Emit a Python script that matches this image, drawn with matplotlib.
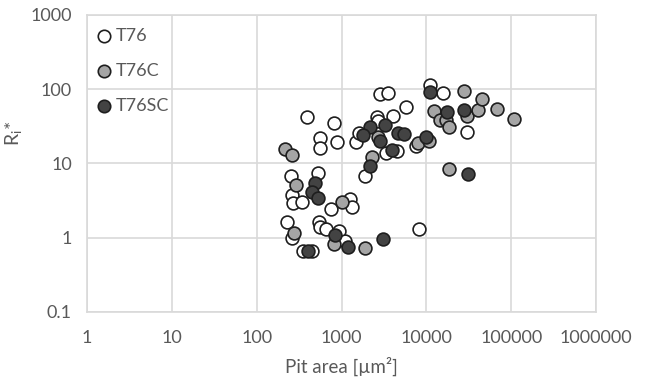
import numpy as np
import matplotlib
matplotlib.use("Agg")
import matplotlib.pyplot as plt

# T76 (open markers)
t76_area = [390, 825, 560, 560, 880, 1490, 1600, 2850, 3570, 5730, 4090, 2610, 2720,
            11100, 15900, 30000, 3360, 4530, 7590, 1900, 253, 534, 259, 271, 340, 754,
            1263, 1334, 226, 264, 549, 560, 658, 945, 1102, 356, 447, 8300]
t76_r = [42.0, 34.7, 21.8, 16.1, 19.5, 19.5, 26.0, 86.5, 90.0, 57.3, 44.1, 42.0, 37.4,
         114, 90.0, 26.4, 13.9, 14.8, 17.3, 6.8, 6.8, 7.5, 3.8, 2.92, 3.0, 2.43,
         3.29, 2.63, 1.64, 0.98, 1.64, 1.40, 1.31, 1.25, 0.91, 0.66, 0.66, 1.32]

# T76C (light grey)
t76c_area = [216, 259, 291, 272, 1008, 825, 1914, 2277, 2700, 8000, 10800, 12400, 14500,
             17100, 18600, 28100, 30000, 40100, 44900, 67800, 108000, 18700]
t76c_r = [15.5, 12.9, 5.15, 1.16, 3.07, 0.83, 0.73, 12.3, 22.8, 18.8, 20.2, 51.5, 39.0,
          38.6, 31.1, 95.8, 44.0, 51.9, 73.3, 53.8, 40.2, 8.46]

# T76SC (dark grey)
t76sc_area = [2175, 1813, 3270, 2850, 3920, 4690, 5470, 9870, 11100, 17300, 28100, 30700,
              2175, 488, 447, 534, 841, 1206, 3096, 407]
t76sc_r = [30.6, 24.5, 32.6, 20.2, 15.4, 25.8, 25.3, 22.6, 90.6, 49.0, 51.9, 7.24,
           9.29, 5.53, 4.19, 3.41, 1.10, 0.755, 0.957, 0.67]

plt.rcParams['font.family'] = ['Lato', 'DejaVu Sans']

fig = plt.figure(figsize=(6.45, 3.84), dpi=100)
ax = fig.add_axes([0.135, 0.1875, 0.789, 0.7735])

edge = '#1e1e1e'
ax.scatter(t76_area, t76_r, s=85, facecolor='white', edgecolor=edge, linewidth=1.2,
           label='T76', zorder=3)
ax.scatter(t76c_area, t76c_r, s=85, facecolor='#a5a5a5', edgecolor=edge, linewidth=1.2,
           label='T76C', zorder=3)
ax.scatter(t76sc_area, t76sc_r, s=85, facecolor='#434343', edgecolor=edge, linewidth=1.2,
           label='T76SC', zorder=3)

ax.set_xscale('log')
ax.set_yscale('log')
ax.set_xlim(1, 1e6)
ax.set_ylim(0.1, 1000)

xt = [1, 10, 100, 1000, 10000, 100000, 1000000]
yt = [0.1, 1, 10, 100, 1000]
ax.set_xticks(xt)
ax.set_xticklabels([str(v) for v in xt])
ax.set_yticks(yt)
ax.set_yticklabels(['0.1', '1', '10', '100', '1000'])
ax.minorticks_off()
ax.tick_params(length=0, labelsize=13, labelcolor='#595959')
ax.tick_params(axis='x', pad=13)
ax.tick_params(axis='y', pad=11)

ax.grid(True, color='#d9d9d9', linewidth=1.2, zorder=0)
ax.set_axisbelow(True)
for sp in ax.spines.values():
    sp.set_color('#d9d9d9')
    sp.set_linewidth(1.2)

ax.set_xlabel('Pit area [µm²]', fontsize=13.5, color='#595959', labelpad=8)
ax.set_ylabel(r'R$_\mathregular{i}$*', fontsize=14, color='#595959')
ax.yaxis.set_label_coords(-0.122, 0.6)

leg = ax.legend(loc='upper left', frameon=False, fontsize=13, labelcolor='#595959',
                handletextpad=0.0, labelspacing=1.05, borderaxespad=0.3,
                bbox_to_anchor=(-0.012, 1.0), handlelength=1.2)
for h in leg.legend_handles:
    h.set_sizes([80])

fig.savefig('out.png', dpi=100)
